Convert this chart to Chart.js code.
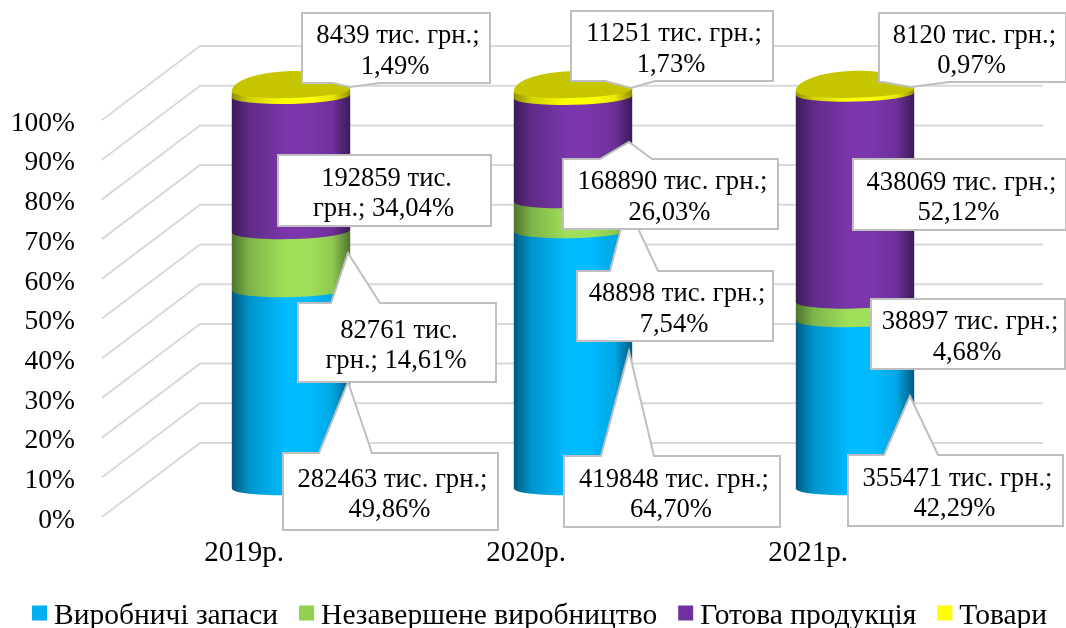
<!DOCTYPE html>
<html lang="uk">
<head>
<meta charset="utf-8">
<title>Структура запасів</title>
<script src="https://cdn.jsdelivr.net/npm/chart.js@4"></script>
<style>
    html, body { margin: 0; padding: 0; background: #fff; }
    canvas { display: block; }
</style>
</head>
<body>
<canvas id="stockChart" width="1066" height="628"></canvas>
<script>
// Chart data
const categories = ['2019р.', '2020р.', '2021р.'];
const seriesNames = ['Виробничі запаси', 'Незавершене виробництво', 'Готова продукція', 'Товари'];
const tickValues = [0, 10, 20, 30, 40, 50, 60, 70, 80, 90, 100];

// Amounts, thousand UAH
const materialsAmount = [282463, 419848, 355471];
const progressAmount = [82761, 48898, 38897];
const finishedAmount = [192859, 168890, 438069];
const goodsAmount = [8439, 11251, 8120];

// Shares of the yearly total, %
const materialsShare = [49.86, 64.70, 42.29];
const progressShare = [14.61, 7.54, 4.68];
const finishedShare = [34.04, 26.03, 52.12];
const goodsShare = [1.49, 1.73, 0.97];

const FONT = '"Liberation Serif", "Times New Roman", serif';

// Fake 3D: the axes sit on the front plane, cylinders and walls are pushed back
const BAR_DX = 47, BAR_DY = -30;
const WALL_DX = 97, WALL_DY = -74;
const GRID_TRIM = 3;

// legend colour, then edge and centre of the side shading (rgb)
const palette = [
    { legend: '#00b0f0', edge: [0, 89, 127], mid: [0, 187, 255] },
    { legend: '#92d050', edge: [79, 115, 48], mid: [159, 224, 90] },
    { legend: '#7030a0', edge: [60, 26, 88], mid: [122, 54, 170] },
    { legend: '#ffff00', edge: [143, 143, 0], mid: [255, 255, 0] }
];
const CAP_COLOR = '#c5c500';

// Callout boxes per series and year: [left, top, right, bottom]; tip and base of the pointer when it shows
const callouts = [
    [
        { box: [283, 453, 498, 530], tip: [348, 382], base: [319, 372], firstLine: 3 },
        { box: [564, 456, 780, 527], tip: [629, 351], base: [601, 654], firstLine: 3 },
        { box: [848, 455, 1063, 526], tip: [910, 396], base: [884, 938], firstLine: 3 }
    ],
    [
        { box: [298, 303, 496, 382], tip: [348, 253], base: [331, 380], firstLine: 2 },
        { box: [577, 271, 773, 341], tip: [627, 205], base: [610, 658], firstLine: 3 },
        { box: [871, 299, 1065, 369], firstLine: 3 }
    ],
    [
        { box: [278, 155, 491, 226], firstLine: 2 },
        { box: [563, 159, 778, 229], tip: [629, 142], base: [600, 652], firstLine: 3 },
        { box: [853, 159, 1066, 230], firstLine: 3 }
    ],
    [
        { box: [302, 13, 490, 83], tip: [350, 87], base: [333, 380], firstLine: 3 },
        { box: [571, 11, 773, 81], tip: [631, 88], base: [605, 655], firstLine: 3 },
        { box: [879, 13, 1066, 82], tip: [911, 87], base: [883, 949], firstLine: 3 }
    ]
];

const amounts = [materialsAmount, progressAmount, finishedAmount, goodsAmount];
const shares = [materialsShare, progressShare, finishedShare, goodsShare];

function calloutLines(series, index, firstLine) {
    const pct = shares[series][index].toFixed(2).replace('.', ',') + '%';
    const words = (amounts[series][index] + ' тис. грн.; ' + pct).split(' ');
    return [words.slice(0, firstLine).join(' '), words.slice(firstLine).join(' ')];
}

function mix(a, b, t) {
    const c = a.map((v, i) => Math.round(v + (b[i] - v) * t));
    return `rgb(${c[0]}, ${c[1]}, ${c[2]})`;
}

// Back wall gridlines: diagonal from the axis, then along the wall
const wallGrid = {
    id: 'wallGrid',
    beforeDatasetsDraw(chart) {
        const { ctx, chartArea } = chart;
        const yScale = chart.scales.y;
        ctx.save();
        ctx.strokeStyle = '#d9d9d9';
        ctx.lineWidth = 2;
        yScale.ticks.forEach((tick, i) => {
            const y = yScale.getPixelForTick(i);
            ctx.beginPath();
            ctx.moveTo(chartArea.left - 1, y);
            ctx.lineTo(chartArea.left + WALL_DX, y + WALL_DY);
            ctx.lineTo(chartArea.right + WALL_DX - GRID_TRIM, y + WALL_DY);
            ctx.stroke();
        });
        ctx.restore();
    }
};

// Stacked cylinders built on the bar elements, bottom segment first
const cylinders = {
    id: 'cylinders',
    beforeDatasetDraw() {
        return false; // flat rectangles are replaced below
    },
    afterDatasetsDraw(chart) {
        const { ctx } = chart;
        const ARC = 8, TILT = -0.025;
        ctx.save();
        categories.forEach((cat, index) => {
            chart.data.datasets.forEach((ds, series) => {
                const bar = chart.getDatasetMeta(series).data[index];
                const { x, y, base, width } = bar.getProps(['x', 'y', 'base', 'width'], true);
                const cx = x + BAR_DX, rx = width / 2;
                const top = y + BAR_DY, bottom = base + BAR_DY;
                const { edge, mid } = palette[series];
                const shade = ctx.createLinearGradient(cx - rx, 0, cx + rx, 0);
                shade.addColorStop(0, mix(edge, mid, 0));
                shade.addColorStop(0.15, mix(edge, mid, 0.6));
                shade.addColorStop(0.45, mix(edge, mid, 1));
                shade.addColorStop(0.65, mix(edge, mid, 1));
                shade.addColorStop(0.85, mix(edge, mid, 0.8));
                shade.addColorStop(1, mix(edge, mid, 0));
                ctx.fillStyle = shade;
                ctx.beginPath();
                ctx.ellipse(cx, bottom, rx, ARC, TILT, 0, Math.PI);
                ctx.ellipse(cx, top, rx, ARC, TILT, Math.PI, Math.PI * 2);
                ctx.closePath();
                ctx.fill();

                // top face of the stack
                if (series === chart.data.datasets.length - 1) {
                    ctx.fillStyle = CAP_COLOR;
                    ctx.beginPath();
                    ctx.ellipse(cx, top, rx, 8, TILT, 0, Math.PI);
                    ctx.ellipse(cx, top, rx, 19, TILT, Math.PI, Math.PI * 2);
                    ctx.closePath();
                    ctx.fill();
                }
            });
        });
        ctx.restore();
    }
};

function calloutPath(ctx, c) {
    const [l, t, r, b] = c.box;
    ctx.beginPath();
    ctx.moveTo(l, t);
    if (c.tip && c.tip[1] < t) {
        ctx.lineTo(c.base[0], t);
        ctx.lineTo(c.tip[0], c.tip[1]);
        ctx.lineTo(c.base[1], t);
    }
    ctx.lineTo(r, t);
    ctx.lineTo(r, b);
    if (c.tip && c.tip[1] > b) {
        ctx.lineTo(c.base[1], b);
        ctx.lineTo(c.tip[0], c.tip[1]);
        ctx.lineTo(c.base[0], b);
    }
    ctx.lineTo(l, b);
    ctx.closePath();
}

const calloutLabels = {
    id: 'calloutLabels',
    afterDraw(chart) {
        const { ctx } = chart;
        ctx.save();
        ctx.font = '26.6px ' + FONT;
        ctx.textAlign = 'center';
        ctx.textBaseline = 'middle';
        callouts.forEach((row, series) => {
            row.forEach((c, index) => {
                calloutPath(ctx, c);
                ctx.fillStyle = '#fff';
                ctx.fill();
                ctx.strokeStyle = '#bfbfbf';
                ctx.lineWidth = 2;
                ctx.stroke();
                const lines = calloutLines(series, index, c.firstLine);
                const cx = (c.box[0] + c.box[2]) / 2;
                const cy = (c.box[1] + c.box[3]) / 2;
                ctx.fillStyle = '#000';
                ctx.fillText(lines[0], cx + 2, cy - 11.5);
                ctx.fillText(lines[1], cx - 1, cy + 19);
            });
        });
        ctx.restore();
    }
};

// Legend row with a tighter box-to-text gap than the built-in one
const legendRow = {
    id: 'legendRow',
    afterDraw(chart) {
        const { ctx } = chart;
        let x = 32;
        ctx.save();
        ctx.font = '29.5px ' + FONT;
        ctx.textAlign = 'left';
        ctx.textBaseline = 'middle';
        chart.data.datasets.forEach(ds => {
            ctx.fillStyle = ds.backgroundColor;
            ctx.fillRect(x, 605.5, 15, 15);
            ctx.fillStyle = '#000';
            ctx.fillText(ds.label, x + 22, 616.5);
            x += 22 + ctx.measureText(ds.label).width + 21;
        });
        ctx.restore();
    }
};

new Chart(document.getElementById('stockChart'), {
    type: 'bar',
    data: {
        labels: categories,
        datasets: shares.map((data, i) => ({
            label: seriesNames[i],
            data: data,
            backgroundColor: palette[i].legend,
            barPercentage: 0.42,
            categoryPercentage: 1
        }))
    },
    options: {
        responsive: false,
        animation: false,
        layout: { padding: { left: 0, right: 117, top: 120, bottom: 0 } },
        plugins: {
            legend: { display: false },
            tooltip: { enabled: false }
        },
        scales: {
            x: {
                stacked: true,
                grid: { display: false, drawTicks: false },
                border: { display: false },
                ticks: { color: '#000', padding: 19, maxRotation: 0, font: { family: FONT, size: 29 } },
                afterFit: scale => { scale.height = 111; }
            },
            y: {
                stacked: true,
                min: 0,
                max: 100,
                afterBuildTicks: scale => { scale.ticks = tickValues.map(value => ({ value })); },
                grid: { display: false, drawTicks: false },
                border: { display: false },
                ticks: { color: '#000', padding: 28, labelOffset: 3.5, callback: v => v + '%', font: { family: FONT, size: 27.5 } },
                afterFit: scale => { scale.width = 103; }
            }
        }
    },
    plugins: [wallGrid, cylinders, calloutLabels, legendRow]
});
</script>
</body>
</html>
